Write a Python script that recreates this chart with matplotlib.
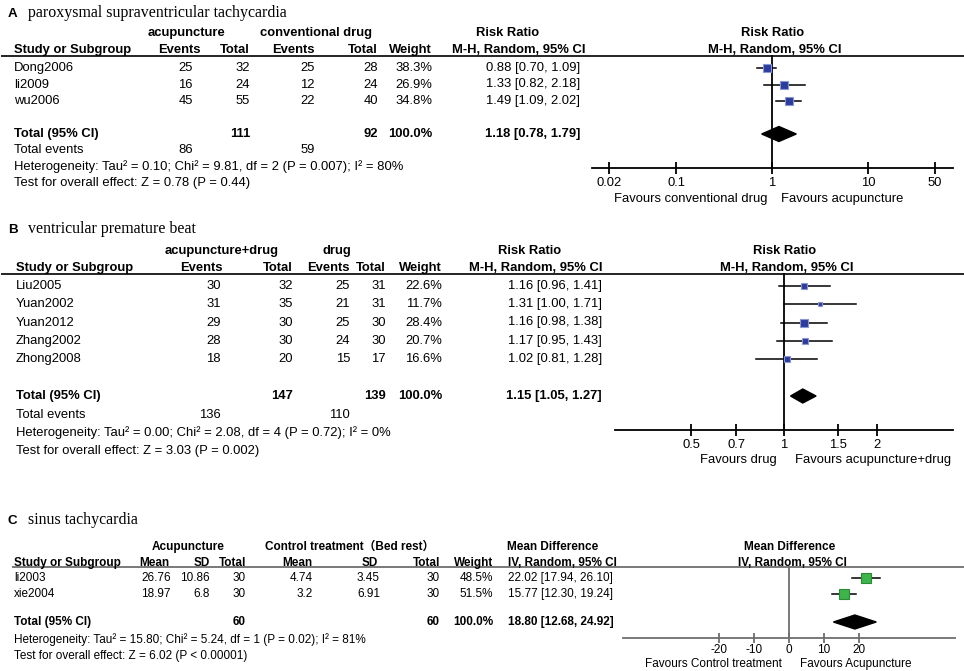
import matplotlib
matplotlib.use('Agg')
import matplotlib.pyplot as plt
from matplotlib.ticker import NullLocator

# ---------------- data ----------------
# Panel A
A_title = 'paroxysmal supraventricular tachycardia'
A_study = ['Dong2006', 'li2009', 'wu2006']
A_exp_events = [25, 16, 45]
A_exp_total = [32, 24, 55]
A_ctl_events = [25, 12, 22]
A_ctl_total = [28, 24, 40]
A_weight = [38.3, 26.9, 34.8]
A_rr = [0.88, 1.33, 1.49]
A_lo = [0.70, 0.82, 1.09]
A_hi = [1.09, 2.18, 2.02]
A_pool = [1.18, 0.78, 1.79]
A_totals = [111, 92]
A_tot_events = [86, 59]
A_het = 'Heterogeneity: Tau² = 0.10; Chi² = 9.81, df = 2 (P = 0.007); I² = 80%'
A_test = 'Test for overall effect: Z = 0.78 (P = 0.44)'
A_ticks = [0.02, 0.1, 1, 10, 50]
A_ticklabels = ['0.02', '0.1', '1', '10', '50']
A_fav = ['Favours conventional drug', 'Favours acupuncture']
A_head = ['Risk Ratio', 'M-H, Random, 95% CI']

# Panel B
B_title = 'ventricular premature beat'
B_study = ['Liu2005', 'Yuan2002', 'Yuan2012', 'Zhang2002', 'Zhong2008']
B_exp_events = [30, 31, 29, 28, 18]
B_exp_total = [32, 35, 30, 30, 20]
B_ctl_events = [25, 21, 25, 24, 15]
B_ctl_total = [31, 31, 30, 30, 17]
B_weight = [22.6, 11.7, 28.4, 20.7, 16.6]
B_rr = [1.16, 1.31, 1.16, 1.17, 1.02]
B_lo = [0.96, 1.00, 0.98, 0.95, 0.81]
B_hi = [1.41, 1.71, 1.38, 1.43, 1.28]
B_pool = [1.15, 1.05, 1.27]
B_totals = [147, 139]
B_tot_events = [136, 110]
B_het = 'Heterogeneity: Tau² = 0.00; Chi² = 2.08, df = 4 (P = 0.72); I² = 0%'
B_test = 'Test for overall effect: Z = 3.03 (P = 0.002)'
B_ticks = [0.5, 0.7, 1, 1.5, 2]
B_ticklabels = ['0.5', '0.7', '1', '1.5', '2']
B_fav = ['Favours drug', 'Favours acupuncture+drug']
B_head = ['Risk Ratio', 'M-H, Random, 95% CI']

# Panel C
C_title = 'sinus tachycardia'
C_study = ['li2003', 'xie2004']
C_exp_mean = ['26.76', '18.97']
C_exp_sd = ['10.86', '6.8']
C_exp_total = [30, 30]
C_ctl_mean = ['4.74', '3.2']
C_ctl_sd = ['3.45', '6.91']
C_ctl_total = [30, 30]
C_weight = [48.5, 51.5]
C_md = [22.02, 15.77]
C_lo = [17.94, 12.30]
C_hi = [26.10, 19.24]
C_pool = [18.80, 12.68, 24.92]
C_totals = [60, 60]
C_het = 'Heterogeneity: Tau² = 15.80; Chi² = 5.24, df = 1 (P = 0.02); I² = 81%'
C_test = 'Test for overall effect: Z = 6.02 (P < 0.00001)'
C_ticks = [-20, -10, 0, 10, 20]
C_ticklabels = ['-20', '-10', '0', '10', '20']
C_fav = ['Favours Control treatment', 'Favours Acupuncture']
C_head = ['Mean Difference', 'IV, Random, 95% CI']

# ---------------- layout ----------------
W, H = 964, 671
SANS = ['Liberation Sans', 'Noto Sans CJK SC', 'DejaVu Sans']
SERIF = ['Liberation Serif', 'DejaVu Serif']
FS = 9.4      # A/B body (pt)
FSC = 8.5     # C body (pt)
TFS = 11.4    # serif titles

fig = plt.figure(figsize=(W / 100, H / 100), dpi=100)
bg = fig.add_axes([0, 0, 1, 1])
bg.set_xlim(0, W)
bg.set_ylim(H, 0)
bg.axis('off')


def T(x, y, s, ha='left', bold=False, size=FS, family=None):
    bg.text(x, y, s, ha=ha, va='center', fontsize=size,
            fontweight='bold' if bold else 'normal',
            family=family or SANS, color='black')


def hline(y, x0, x1, color='black', lw=1.2):
    bg.plot([x0, x1], [y, y], color=color, lw=lw, solid_capstyle='butt')


def px_rect(x0, y0, x1, y1):
    return [x0 / W, 1 - y1 / H, (x1 - x0) / W, (y1 - y0) / H]


def forest(rect, scale, xlim, ticks, labels, ys, est, lo, hi, weights, k,
           pool, ypool, half, face, edge, lcolor, null, fs, fav, favy, favgap,
           head, heady, ticklen, pad):
    x0, y0, x1, y1 = rect
    ax = fig.add_axes(px_rect(x0, y0, x1, y1))
    ax.set_xscale(scale)
    ax.set_xlim(*xlim)
    ax.set_ylim(y1, y0)
    ax.patch.set_alpha(0)
    for s in ['top', 'left', 'right']:
        ax.spines[s].set_visible(False)
    ax.spines['bottom'].set_color(lcolor)
    ax.spines['bottom'].set_linewidth(1.3)
    ax.set_yticks([])
    ax.set_xticks(ticks)
    ax.set_xticklabels(labels)
    ax.xaxis.set_minor_locator(NullLocator())
    ax.tick_params(axis='x', direction='inout', length=ticklen, width=1.3,
                   color=lcolor, pad=pad, labelsize=fs)
    for t in ax.get_xticklabels():
        t.set_family(SANS)
    ax.plot([null, null], [y1, y0], color=lcolor, lw=1.3, clip_on=False)
    for yy, e, l, h, w in zip(ys, est, lo, hi, weights):
        ax.plot([l, h], [yy, yy], color='black', lw=1.1, clip_on=False)
        ax.plot([e], [yy], marker='s', ms=k * w ** 0.5 * 0.72,
                mfc=face, mec=edge, mew=0.8, clip_on=False)
    pe, pl, ph = pool
    ax.fill([pl, pe, ph, pe], [ypool, ypool - half, ypool, ypool + half],
            color='black', clip_on=False)
    xnull = ax.transData.transform((null, 0))[0] / fig.dpi * 100
    T(xnull - favgap, favy, fav[0], ha='right', size=fs)
    T(xnull + favgap + 4, favy, fav[1], ha='left', size=fs)
    T(xnull + 1, heady[0], head[0], ha='center', bold=True, size=fs)
    T(xnull + 3, heady[1], head[1], ha='center', bold=True, size=fs)
    return ax


# ---------------- panel A ----------------
T(8, 14, 'A', bold=True, size=9.6)
T(28, 13, A_title, size=TFS, family=SERIF)
T(186, 33, 'acupuncture', ha='center', bold=True)
T(316, 33, 'conventional drug', ha='center', bold=True)
T(508, 33, A_head[0], ha='center', bold=True)
T(14, 50, 'Study or Subgroup', bold=True)
T(179, 50, 'Events', ha='center', bold=True)
T(250, 50, 'Total', ha='right', bold=True)
T(315, 50, 'Events', ha='right', bold=True)
T(378, 50, 'Total', ha='right', bold=True)
T(432, 50, 'Weight', ha='right', bold=True)
T(519, 50, A_head[1], ha='center', bold=True)
hline(56, 1, W)
A_y = [68, 84.5, 101]
for i, y in enumerate(A_y):
    T(14, y, A_study[i])
    T(193, y, str(A_exp_events[i]), ha='right')
    T(250, y, str(A_exp_total[i]), ha='right')
    T(315, y, str(A_ctl_events[i]), ha='right')
    T(378, y, str(A_ctl_total[i]), ha='right')
    T(432, y, f'{A_weight[i]:.1f}%', ha='right')
    T(580, y, f'{A_rr[i]:.2f} [{A_lo[i]:.2f}, {A_hi[i]:.2f}]', ha='right')
yA_tot = 134
T(14, yA_tot, 'Total (95% CI)', bold=True)
T(250, yA_tot, str(A_totals[0]), ha='right', bold=True)
T(378, yA_tot, str(A_totals[1]), ha='right', bold=True)
T(432, yA_tot, '100.0%', ha='right', bold=True)
T(580, yA_tot, f'{A_pool[0]:.2f} [{A_pool[1]:.2f}, {A_pool[2]:.2f}]', ha='right', bold=True)
T(14, 150, 'Total events')
T(193, 150, str(A_tot_events[0]), ha='right')
T(315, 150, str(A_tot_events[1]), ha='right')
T(14, 166.5, A_het)
T(14, 183, A_test)
forest((592, 56, 953, 168), 'log', (10 ** -1.875, 10 ** 1.885), A_ticks, A_ticklabels,
       A_y, A_rr, A_lo, A_hi, A_weight, 1.36, A_pool, yA_tot, 7.5,
       '#2b3c9e', '#8a96d2', 'black', 1, FS, A_fav, 199, 5,
       A_head, (33, 50), 9, 2)

# ---------------- panel B ----------------
T(8, 230, 'B', bold=True, size=9.6)
T(28, 229, B_title, size=TFS, family=SERIF)
T(222, 251, 'acupuncture+drug', ha='center', bold=True)
T(337, 251, 'drug', ha='center', bold=True)
T(530, 251, B_head[0], ha='center', bold=True)
T(16, 268, 'Study or Subgroup', bold=True)
T(201, 268, 'Events', ha='center', bold=True)
T(293, 268, 'Total', ha='right', bold=True)
T(350, 268, 'Events', ha='right', bold=True)
T(386, 268, 'Total', ha='right', bold=True)
T(442, 268, 'Weight', ha='right', bold=True)
T(536, 268, B_head[1], ha='center', bold=True)
hline(274, 1, W)
B_y = [286, 304.3, 322.5, 340.7, 359]
for i, y in enumerate(B_y):
    T(16, y, B_study[i])
    T(221, y, str(B_exp_events[i]), ha='right')
    T(293, y, str(B_exp_total[i]), ha='right')
    T(350, y, str(B_ctl_events[i]), ha='right')
    T(386, y, str(B_ctl_total[i]), ha='right')
    T(442, y, f'{B_weight[i]:.1f}%', ha='right')
    T(602, y, f'{B_rr[i]:.2f} [{B_lo[i]:.2f}, {B_hi[i]:.2f}]', ha='right')
yB_tot = 396
T(16, yB_tot, 'Total (95% CI)', bold=True)
T(293, yB_tot, str(B_totals[0]), ha='right', bold=True)
T(386, yB_tot, str(B_totals[1]), ha='right', bold=True)
T(442, yB_tot, '100.0%', ha='right', bold=True)
T(602, yB_tot, f'{B_pool[0]:.2f} [{B_pool[1]:.2f}, {B_pool[2]:.2f}]', ha='right', bold=True)
T(16, 415, 'Total events')
T(221, 415, str(B_tot_events[0]), ha='right')
T(350, 415, str(B_tot_events[1]), ha='right')
T(16, 433, B_het)
T(16, 451, B_test)
forest((615, 274, 953, 430), 'log', (10 ** -0.547, 10 ** 0.547), B_ticks, B_ticklabels,
       B_y, B_rr, B_lo, B_hi, B_weight, 1.4, B_pool, yB_tot, 7,
       '#2b3c9e', '#8a96d2', 'black', 1, FS, B_fav, 460, 7,
       B_head, (251, 268), 9, 2)

# ---------------- panel C ----------------
T(8, 521, 'C', bold=True, size=9.6)
T(28, 520, C_title, size=TFS, family=SERIF)
T(188, 547, 'Acupuncture', ha='center', bold=True, size=FSC)
T(350, 547, 'Control treatment（Bed rest）', ha='center', bold=True, size=FSC)
T(553, 547, C_head[0], ha='center', bold=True, size=FSC)
T(14, 563, 'Study or Subgroup', bold=True, size=FSC)
T(154, 563, 'Mean', ha='center', bold=True, size=FSC)
T(210, 563, 'SD', ha='right', bold=True, size=FSC)
T(246, 563, 'Total', ha='right', bold=True, size=FSC)
T(297, 563, 'Mean', ha='center', bold=True, size=FSC)
T(370, 563, 'SD', ha='center', bold=True, size=FSC)
T(440, 563, 'Total', ha='right', bold=True, size=FSC)
T(493, 563, 'Weight', ha='right', bold=True, size=FSC)
T(562, 563, C_head[1], ha='center', bold=True, size=FSC)
hline(567, 12, W, color='#6e6e6e', lw=1.3)
C_y = [578, 594]
for i, y in enumerate(C_y):
    T(14, y, C_study[i], size=FSC)
    T(171, y, C_exp_mean[i], ha='right', size=FSC)
    T(210, y, C_exp_sd[i], ha='right', size=FSC)
    T(246, y, str(C_exp_total[i]), ha='right', size=FSC)
    T(313, y, C_ctl_mean[i], ha='right', size=FSC)
    T(380, y, C_ctl_sd[i], ha='right', size=FSC)
    T(440, y, str(C_ctl_total[i]), ha='right', size=FSC)
    T(493, y, f'{C_weight[i]:.1f}%', ha='right', size=FSC)
    T(508, y, f'{C_md[i]:.2f} [{C_lo[i]:.2f}, {C_hi[i]:.2f}]', size=FSC)
yC_tot = 622
T(14, yC_tot, 'Total (95% CI)', bold=True, size=FSC)
T(246, yC_tot, str(C_totals[0]), ha='right', bold=True, size=FSC)
T(440, yC_tot, str(C_totals[1]), ha='right', bold=True, size=FSC)
T(493, yC_tot, '100.0%', ha='right', bold=True, size=FSC)
T(508, yC_tot, f'{C_pool[0]:.2f} [{C_pool[1]:.2f}, {C_pool[2]:.2f}]', bold=True, size=FSC)
T(14, 640, C_het, size=FSC)
T(14, 656, C_test, size=FSC)
forest((623, 567, 955, 638), 'linear', (-47.4, 47.4), C_ticks, C_ticklabels,
       C_y, C_md, C_lo, C_hi, C_weight, 1.45, C_pool, yC_tot, 7,
       '#3db54a', '#2a8a36', '#6e6e6e', 0, FSC, C_fav, 664, 7,
       C_head, (547, 563), 7, 0.5)

fig.savefig('out.png', dpi=100)
